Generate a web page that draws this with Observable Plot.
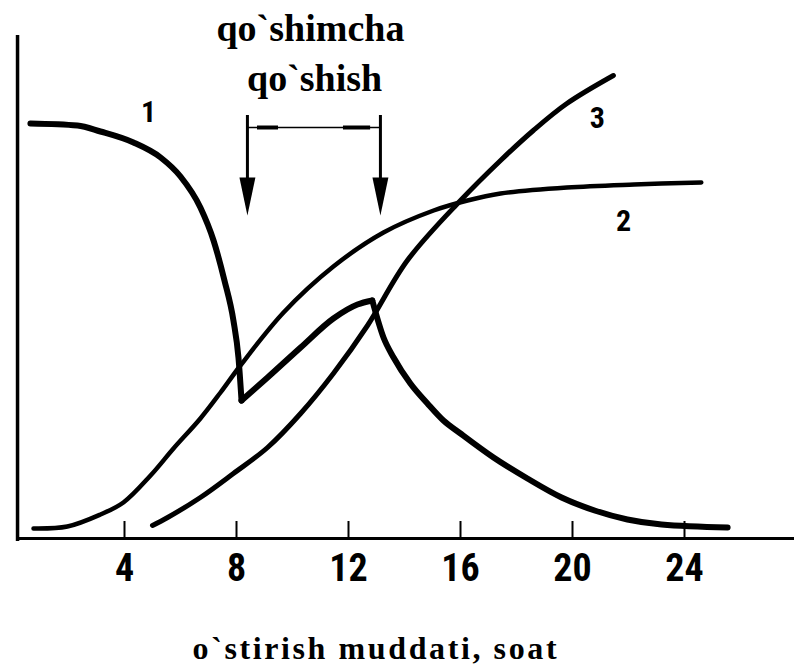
<!DOCTYPE html>
<html><head><meta charset="utf-8">
<script src="https://cdn.jsdelivr.net/npm/d3@7"></script>
<script src="https://cdn.jsdelivr.net/npm/@observablehq/plot@0.6"></script>
<style>
body{margin:0;background:#fff}
</style>
</head><body><div id="chart"></div>
<script>
// x: o`stirish muddati (soat); y: relative units (no scale shown)
const xTicks = [4, 8, 12, 16, 20, 24];
const xLabel = "o`stirish muddati, soat";

// Curve 1 (three pieces: fall, rise after addition, fall)
const curve1Fall = [[0.64,83],[2.32,82.6],[3.14,81.4],[4.32,79.2],[5.29,76.2],[6.0,72.4],[6.71,66.2],[7.18,59.6],[7.57,51.6],[7.89,43.6],[8.07,36.2],[8.18,27.6]];
const curve1Rise = [[8.18,27.6],[9.11,32.2],[10.29,38.2],[11.46,44],[12.32,46.8],[12.85,47.6]];
const curve1Drop = [[12.85,47.6],[13.25,40.2],[13.61,36.2],[14.21,31],[14.82,27],[15.39,23.6],[16.0,21],[17.18,16.2],[18.39,12],[19.61,8.2],[20.79,5.6],[21.96,3.8],[23.18,2.8],[25.54,2.2]];
// Curve 2
const curve2 = [[0.75,2],[1.96,2.4],[3.14,4.8],[3.96,7.2],[4.93,12.6],[5.75,18],[6.71,24],[7.43,29.2],[8.14,34.6],[9.68,45.2],[11.46,54.4],[13.25,61.2],[15.04,65.6],[16.25,67.6],[17.43,69],[19.8,70.2],[22.2,70.8],[24.6,71.2]];
// Curve 3
const curve3 = [[5.0,2.6],[5.54,4.2],[6.71,8.2],[7.89,13],[9.11,18.2],[10.29,25],[11.46,33],[12.68,42.6],[14.1,55.6],[16.0,67.6],[17.43,75.6],[18.6,81.6],[19.8,87],[21.46,92.6]];

// Curve number labels
const curveLabels = [{t:"1", x:4.86, y:85.2},{t:"2", x:21.82, y:63.4},{t:"3", x:20.89, y:84}];
// Annotation: addition period (qo`shimcha qo`shish)
const annoLines = [{t:"qo`shimcha", x:10.64, y:99.6},{t:"qo`shish", x:10.79, y:89.6}];
const arrowX = [8.39, 13.14];
const arrowTop = 84.6, arrowHeadMid = 68.4;
const bracketY = 82.2;
const bracketThick = [[8.75, 9.5],[11.82, 12.79]];
const axisOrigin = 0.18, axisXEnd = 28, axisYTop = 100.6;

const toObj = (arr, id) => arr.map(([x, y]) => ({x, y, id}));
const c1 = [...toObj(curve1Fall, "a"), ...toObj(curve1Rise, "b"), ...toObj(curve1Drop, "c")];

const narrowHead = {
  draw(ctx, size) {
    const k = Math.sqrt(size / Math.PI);
    ctx.moveTo(0, k);
    ctx.lineTo(-0.42 * k, -k);
    ctx.lineTo(0.42 * k, -k);
    ctx.closePath();
  }
};

const serif = "Liberation Serif";
const narrow = "Roboto Condensed";

const plot = Plot.plot({
  width: 794, height: 669,
  marginTop: 0, marginRight: 0, marginBottom: 0, marginLeft: 0,
  x: {domain: [0, 28], range: [12, 796], axis: null},
  y: {domain: [0, 100], range: [538, 38], axis: null},
  style: {background: "#fff", color: "#000"},
  marks: [
    // axes
    Plot.ruleY([0], {x1: axisOrigin, x2: axisXEnd, stroke: "#000", strokeWidth: 3}),
    Plot.ruleX([axisOrigin], {y1: -0.6, y2: axisYTop, stroke: "#000", strokeWidth: 3.5}),
    Plot.ruleX(xTicks, {x: d => d, y1: 0, y2: 3.4, stroke: "#000", strokeWidth: 2}),
    Plot.text(xTicks, {x: d => d, y: 0, dy: 30, text: d => String(d), fontFamily: narrow, fontWeight: "bold", fontSize: 38, fill: "#000"}),
    Plot.text([xLabel], {x: 12.93, y: 0, dy: 120, lineAnchor: "bottom", text: d => d, fontFamily: serif, fontWeight: "bold", fontSize: 32, fill: "#000"}),
    // curves
    Plot.line(curve2, {x: d => d[0], y: d => d[1], curve: "catmull-rom", stroke: "#000", strokeWidth: 4.5}),
    Plot.line(curve3, {x: d => d[0], y: d => d[1], curve: "catmull-rom", stroke: "#000", strokeWidth: 5}),
    Plot.line(c1, {x: "x", y: "y", z: "id", curve: "monotone-x", stroke: "#000", strokeWidth: 6, strokeLinejoin: "round"}),
    // curve labels
    Plot.text(curveLabels, {x: "x", y: "y", text: "t", fontFamily: narrow, fontWeight: "bold", fontSize: 30, fill: "#000"}),
    // annotation
    Plot.text(annoLines, {x: "x", y: "y", text: "t", lineAnchor: "bottom", fontFamily: serif, fontWeight: "bold", fontSize: 38, fill: "#000"}),
    Plot.ruleX(arrowX, {x: d => d, y1: arrowTop, y2: arrowHeadMid, stroke: "#000", strokeWidth: 3}),
    Plot.dot(arrowX, {x: d => d, y: arrowHeadMid, symbol: narrowHead, r: 19, fill: "#000", stroke: "none"}),
    Plot.ruleY([bracketY], {x1: arrowX[0], x2: arrowX[1], stroke: "#000", strokeWidth: 1.5}),
    Plot.ruleY(bracketThick, {y: bracketY, x1: d => d[0], x2: d => d[1], stroke: "#000", strokeWidth: 4})
  ]
});
document.getElementById("chart").appendChild(plot);
// widen the axis title's letter spacing to the reference width
d3.select(plot).selectAll("text").filter(function() { return this.textContent === xLabel; })
  .attr("textLength", 364).attr("lengthAdjust", "spacing");
</script>
</body></html>
